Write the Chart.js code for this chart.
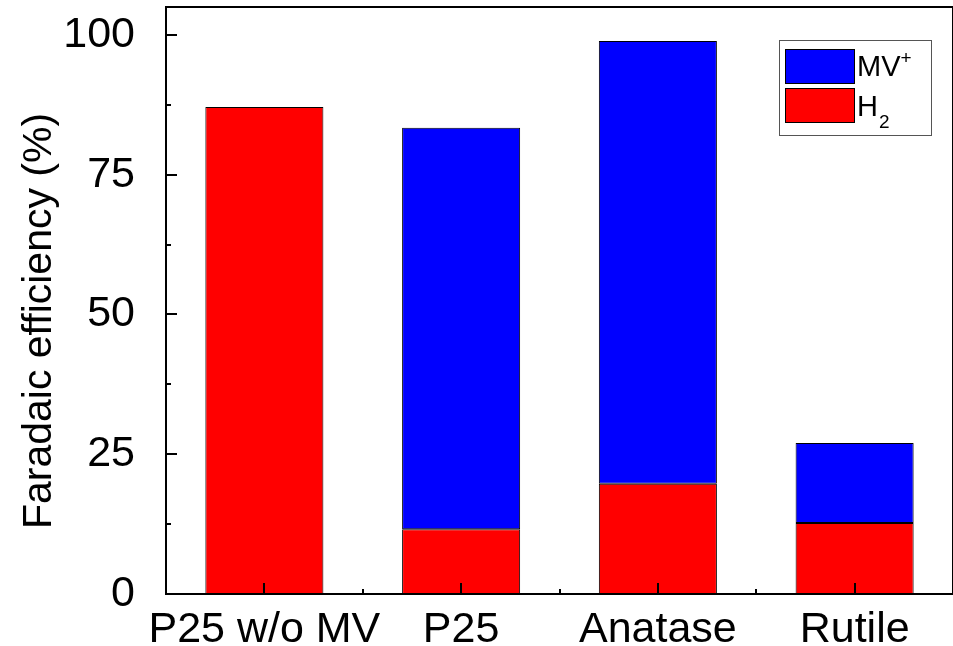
<!DOCTYPE html>
<html>
<head>
<meta charset="utf-8">
<script src="https://cdn.jsdelivr.net/npm/chart.js@4.4.0/dist/chart.umd.min.js"></script>
<style>
    html, body { margin: 0; padding: 0; background: #fff; }
    #wrap { width: 953px; height: 646px; }
</style>
</head>
<body>
<div id="wrap"><canvas id="chart"></canvas></div>
<script>
const categories = ["P25 w/o MV", "P25", "Anatase", "Rutile"];
const h2Values = [87.1, 11.6, 19.7, 12.7];
const mvValues = [0, 71.8, 79.2, 14.3];
const yTicks = [0, 25, 50, 75, 100];
const yMinorTicks = [12.5, 37.5, 62.5, 87.5];

const FONT = "'Liberation Sans', Arial, sans-serif";

const framePlugin = {
    id: "frame",
    afterDraw(chart) {
        const ctx = chart.ctx;
        const area = chart.chartArea;
        const x = chart.scales.x;
        const y = chart.scales.y;
        ctx.save();
        ctx.strokeStyle = "#000";
        ctx.lineWidth = 2;

        // inside tick marks
        ctx.beginPath();
        yTicks.forEach((v) => {
            const py = Math.round(y.getPixelForValue(v));
            ctx.moveTo(area.left, py);
            ctx.lineTo(area.left + 11, py);
        });
        yMinorTicks.forEach((v) => {
            const py = Math.round(y.getPixelForValue(v));
            ctx.moveTo(area.left, py);
            ctx.lineTo(area.left + 5, py);
        });
        categories.forEach((c, i) => {
            const px = Math.round(x.getPixelForValue(i));
            ctx.moveTo(px, area.bottom);
            ctx.lineTo(px, area.bottom - 11);
            if (i > 0) {
                const mx = Math.round((x.getPixelForValue(i - 1) + x.getPixelForValue(i)) / 2);
                ctx.moveTo(mx, area.bottom);
                ctx.lineTo(mx, area.bottom - 5);
            }
        });
        ctx.stroke();

        // frame
        ctx.strokeRect(area.left, area.top, area.right - area.left, area.bottom - area.top);

        // y title
        ctx.fillStyle = "#000";
        ctx.font = "41px " + FONT;
        ctx.textAlign = "center";
        ctx.textBaseline = "alphabetic";
        ctx.translate(51, 321);
        ctx.rotate(-Math.PI / 2);
        ctx.fillText("Faradaic efficiency (%)", 0, 0);
        ctx.restore();

        // legend
        ctx.save();
        ctx.strokeStyle = "#555";
        ctx.lineWidth = 1;
        ctx.strokeRect(779.5, 40.5, 152, 95);
        ctx.strokeStyle = "#000";
        ctx.fillStyle = "#0000ff";
        ctx.fillRect(785.5, 49.5, 69, 34);
        ctx.strokeRect(785.5, 49.5, 69, 34);
        ctx.fillStyle = "#ff0000";
        ctx.fillRect(785.5, 88.5, 69, 34);
        ctx.strokeRect(785.5, 88.5, 69, 34);
        ctx.fillStyle = "#000";
        ctx.textAlign = "left";
        ctx.textBaseline = "alphabetic";
        ctx.font = "29px " + FONT;
        ctx.fillText("MV", 857, 76);
        const mvW = ctx.measureText("MV").width;
        ctx.fillText("H", 857, 116);
        const hW = ctx.measureText("H").width;
        ctx.font = "19px " + FONT;
        ctx.fillText("+", 857 + mvW, 64);
        ctx.fillText("2", 857 + hW + 1, 128);
        ctx.restore();
    },
};

const ctx = document.getElementById("chart");

new Chart(ctx, {
    type: "bar",
    data: {
        labels: categories,
        datasets: [
            {
                label: "H2",
                data: h2Values,
                backgroundColor: "#ff0000",
                borderColor: "#000",
                borderWidth: 1,
                borderSkipped: false,
            },
            {
                label: "MV+",
                data: mvValues,
                backgroundColor: "#0000ff",
                borderColor: "#000",
                borderWidth: 1,
                borderSkipped: false,
            },
        ],
    },
    options: {
        responsive: true,
        maintainAspectRatio: false,
        animation: false,
        layout: { padding: { top: 7, right: -3, left: 0, bottom: 0 } },
        datasets: {
            bar: { barPercentage: 0.6, categoryPercentage: 1 },
        },
        plugins: {
            legend: { display: false },
            tooltip: { enabled: false },
        },
        scales: {
            x: {
                stacked: true,
                grid: { display: false, drawTicks: false },
                border: { display: false },
                ticks: {
                    color: "#000",
                    font: { family: FONT, size: 43 },
                    padding: 10,
                    maxRotation: 0,
                    autoSkip: false,
                },
                afterFit: (s) => {
                    s.height = 52;
                    s.paddingLeft = 0;
                    s.paddingRight = 0;
                },
            },
            y: {
                stacked: true,
                min: 0,
                max: 105,
                grid: { display: false, drawTicks: false },
                border: { display: false },
                afterBuildTicks: (s) => { s.ticks = yTicks.map((v) => ({ value: v })); },
                ticks: {
                    color: "#000",
                    font: { family: FONT, size: 43 },
                    padding: 31,
                },
                afterFit: (s) => {
                    s.width = 166;
                    s.paddingTop = 0;
                    s.paddingBottom = 0;
                },
            },
        },
    },
    plugins: [framePlugin],
});
</script>
</body>
</html>
